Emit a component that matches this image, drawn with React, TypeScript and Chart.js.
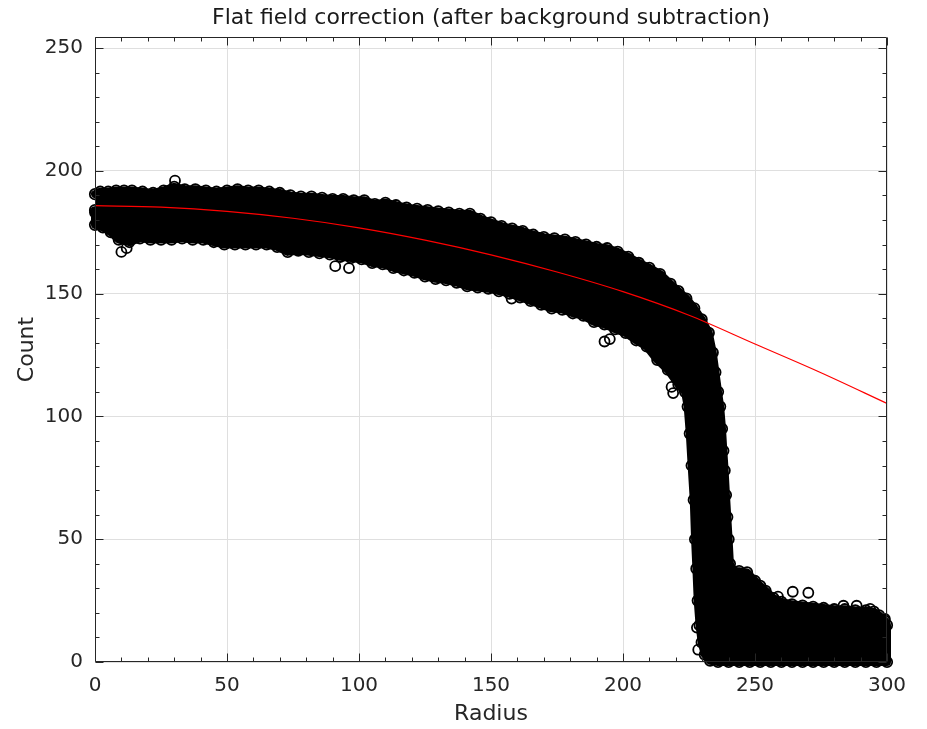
import React, { useEffect, useRef } from "react";
import { Chart, registerables } from "chart.js";

Chart.register(...registerables);

// ---- data ----
const titleText = "Flat field correction (after background subtraction)";
const xLabel = "Radius";
const yLabel = "Count";
const xTicks = [0, 50, 100, 150, 200, 250, 300];
const yTicks = [0, 50, 100, 150, 200, 250];
const xMin = 0;
const xMax = 300;
const yMin = 0;
const yMax = 254.5;
const minorStep = 10;

// fitted (red) curve
const fitRadius = [0, 25, 50, 75, 100, 125, 150, 175, 200, 225, 250, 275, 300];
const fitCount = [185.8, 185.2, 183.5, 180.7, 176.8, 171.8, 165.8, 158.8, 150.8, 141.2, 129.5, 117.8, 105.3];

// upper envelope of the dense point cloud (left -> right)
const upperRadius = [0, 2, 5, 8, 11, 14, 18, 22, 26, 30, 34, 38, 42, 46, 50, 54, 58, 62, 66, 70, 74, 78, 82, 86, 90, 94, 98, 102, 106, 110, 114, 118, 122, 126, 130, 134, 138, 142, 146, 150, 154, 158, 162, 166, 170, 174, 178, 182, 186, 190, 194, 198, 202, 206, 210, 214, 218, 221, 224, 227, 229.8, 232.5, 234, 235, 236, 236.8, 237.5, 238, 238.5, 239, 239.5, 240, 240.5, 241.5, 244, 247, 250, 252, 254, 257, 260, 264, 268, 272, 276, 280, 284, 288, 292, 295, 297, 299, 300];
const upperCount = [190.5, 191.5, 191.5, 192, 192, 192, 191.5, 191, 192, 193.5, 192.5, 192.5, 192, 191.5, 192, 192.5, 192, 192, 191.5, 191, 190, 189.5, 189.5, 189, 188.5, 188.5, 188, 188, 186.5, 187, 186, 185, 184.5, 184, 183.5, 183, 182.5, 182.5, 180.5, 179, 177.5, 176.5, 175.5, 174, 173, 172.5, 172, 171, 170, 169, 168.5, 167, 165, 162.5, 160.5, 158, 154, 151, 148, 144, 139.5, 134, 126, 118, 110, 104, 95, 86, 78, 68, 59, 50, 40, 37, 37, 36.5, 33, 31, 29, 26, 24.5, 23.5, 23, 22.5, 22, 21.5, 21.5, 21, 21, 20.5, 19, 17, 15];

// lower envelope of the dense point cloud (right -> left)
const lowerRadius = [300, 296, 292, 288, 284, 280, 276, 272, 268, 264, 260, 256, 252, 248, 244, 240, 236, 233, 231, 229.8, 229, 228.3, 227.8, 227.3, 226.8, 226, 225.3, 224.5, 223.5, 221, 217, 213, 209, 205, 201, 197, 193, 189, 185, 181, 177, 173, 169, 165, 161, 157, 153, 149, 145, 141, 137, 133, 129, 125, 121, 117, 113, 109, 105, 101, 97, 93, 89, 85, 81, 77, 73, 69, 65, 61, 57, 53, 49, 45, 41, 37, 33, 29, 25, 21, 17, 13, 9, 6, 3, 0, 0];
const lowerCount = [0, 0, 0, 0, 0, 0, 0, 0, 0, 0, 0, 0, 0, 0, 0, 0, 0, 0.5, 3, 8, 15, 25, 38, 50, 66, 80, 93, 104, 110, 113, 119, 123, 128.5, 131, 134, 135.5, 137.5, 138.5, 141, 142, 143.5, 144, 145.5, 147, 148.5, 150, 151, 152, 152.5, 153, 154.5, 155.5, 156, 157, 158.5, 159.5, 160.5, 162, 162.5, 164, 164.5, 165, 166, 166.5, 167, 167.5, 167, 169, 170, 170, 170, 170, 170, 171, 172, 172, 172.5, 172, 172, 172, 172.5, 171, 172, 175, 177, 178, 184];

// isolated points sticking out of the cloud
const outlierRadius = [0, 30.3, 10, 12, 91, 96.2, 157.8, 193, 195, 218.4, 219, 228.5, 228, 258.7, 264.3, 270.2, 283.5, 288.5, 293.6, 299.2];
const outlierCount = [183, 196, 167, 168.5, 161.2, 160.4, 148, 130.5, 131.5, 112, 109.5, 5, 14, 26.6, 28.6, 28.2, 22.9, 22.9, 21.6, 17.5];

// ---- styles ----
const FONT = "'DejaVu Sans', sans-serif";
const TEXT = "#262626";
const AXIS = "#262626";
const GRID = "#dfdfdf";

const zip = (xs: number[], ys: number[]) => xs.map((x, i) => ({ x, y: ys[i] }));

const boxPlugin = {
  id: "boxTicks",
  afterDatasetsDraw(chart: any) {
    const { ctx, chartArea: a, scales } = chart;
    const xs = scales.x;
    const ys = scales.y;
    const L = Math.round(a.left) + 0.5;
    const R = Math.round(a.right) - 0.5;
    const T = Math.round(a.top) + 0.5;
    const B = Math.round(a.bottom) - 0.5;
    ctx.save();
    ctx.strokeStyle = AXIS;
    ctx.lineWidth = 1;
    ctx.beginPath();
    for (let v = xMin; v <= xMax + 1e-9; v += minorStep) {
      const major = xTicks.includes(v);
      const len = major ? 8 : 4;
      const px = Math.round(xs.getPixelForValue(v)) + 0.5;
      ctx.moveTo(px, B);
      ctx.lineTo(px, B - len);
      ctx.moveTo(px, T);
      ctx.lineTo(px, T + len);
    }
    for (let v = yMin; v <= yMax + 1e-9; v += minorStep) {
      const major = yTicks.includes(v);
      const len = major ? 8 : 4;
      const py = Math.round(ys.getPixelForValue(v)) + 0.5;
      ctx.moveTo(L, py);
      ctx.lineTo(L + len, py);
      ctx.moveTo(R, py);
      ctx.lineTo(R - len, py);
    }
    ctx.stroke();
    ctx.beginPath();
    ctx.rect(L, T, R - L, B - T);
    ctx.stroke();
    ctx.restore();
  },
};

export default function App() {
  const ref = useRef<HTMLCanvasElement | null>(null);

  useEffect(() => {
    if (!ref.current) return;
    const bandPoints = [...zip(upperRadius, upperCount), ...zip(lowerRadius, lowerCount)];
    const chart = new Chart(ref.current, {
      type: "scatter",
      data: {
        datasets: [
          {
            label: "fit",
            data: zip(fitRadius, fitCount),
            showLine: true,
            borderColor: "#ff0000",
            borderWidth: 1.2,
            pointRadius: 0,
            cubicInterpolationMode: "monotone",
            fill: false,
            order: 0,
          } as any,
          {
            label: "outliers",
            data: zip(outlierRadius, outlierCount),
            showLine: false,
            pointStyle: "circle",
            pointRadius: 5,
            borderColor: "#000000",
            backgroundColor: "rgba(0,0,0,0)",
            borderWidth: 1.8,
            clip: false,
            order: 1,
          } as any,
          {
            label: "data",
            data: bandPoints,
            showLine: true,
            fill: "shape",
            backgroundColor: "#000000",
            borderColor: "#000000",
            borderWidth: 8,
            borderJoinStyle: "round",
            borderCapStyle: "round",
            pointStyle: "circle",
            pointRadius: 5.2,
            pointBorderColor: "#000000",
            pointBackgroundColor: "rgba(0,0,0,0)",
            pointBorderWidth: 1.8,
            tension: 0,
            clip: false,
            order: 2,
          } as any,
        ],
      },
      options: {
        responsive: false,
        animation: false,
        devicePixelRatio: 1,
        layout: { padding: { left: 0, right: 40, top: 0, bottom: 0 } },
        plugins: {
          legend: { display: false },
          tooltip: { enabled: false },
          title: {
            display: true,
            text: titleText,
            color: "#1a1a1a",
            fullSize: false,
            font: { family: FONT, size: 22, weight: "normal" },
            padding: { top: 5, bottom: 5.6 },
          },
        },
        scales: {
          x: {
            type: "linear",
            min: xMin,
            max: xMax,
            afterBuildTicks: (s: any) => {
              s.ticks = xTicks.map((v) => ({ value: v }));
            },
            afterFit: (s: any) => {
              s.height = 67;
            },
            grid: { color: GRID, lineWidth: 1, drawTicks: false },
            border: { display: false },
            ticks: {
              color: TEXT,
              font: { family: FONT, size: 20 },
              padding: 12,
              maxRotation: 0,
              autoSkip: false,
            },
            title: {
              display: true,
              text: xLabel,
              color: TEXT,
              font: { family: FONT, size: 22 },
              padding: { top: 0, bottom: 1.5 },
            },
          },
          y: {
            type: "linear",
            min: yMin,
            max: yMax,
            afterBuildTicks: (s: any) => {
              s.ticks = yTicks.map((v) => ({ value: v }));
            },
            afterFit: (s: any) => {
              s.width = 95;
            },
            grid: { color: GRID, lineWidth: 1, drawTicks: false },
            border: { display: false },
            ticks: {
              color: TEXT,
              font: { family: FONT, size: 20 },
              padding: 12,
              autoSkip: false,
            },
            title: {
              display: true,
              text: yLabel,
              color: TEXT,
              font: { family: FONT, size: 22 },
              padding: { top: 14, bottom: 0 },
            },
          },
        },
      },
      plugins: [boxPlugin],
    });
    return () => chart.destroy();
  }, []);

  return (
    <div style={{ position: "fixed", left: 0, top: 0, width: 927, height: 729, background: "#ffffff" }}>
      <canvas ref={ref} width={927} height={729} style={{ display: "block" }} />
    </div>
  );
}
